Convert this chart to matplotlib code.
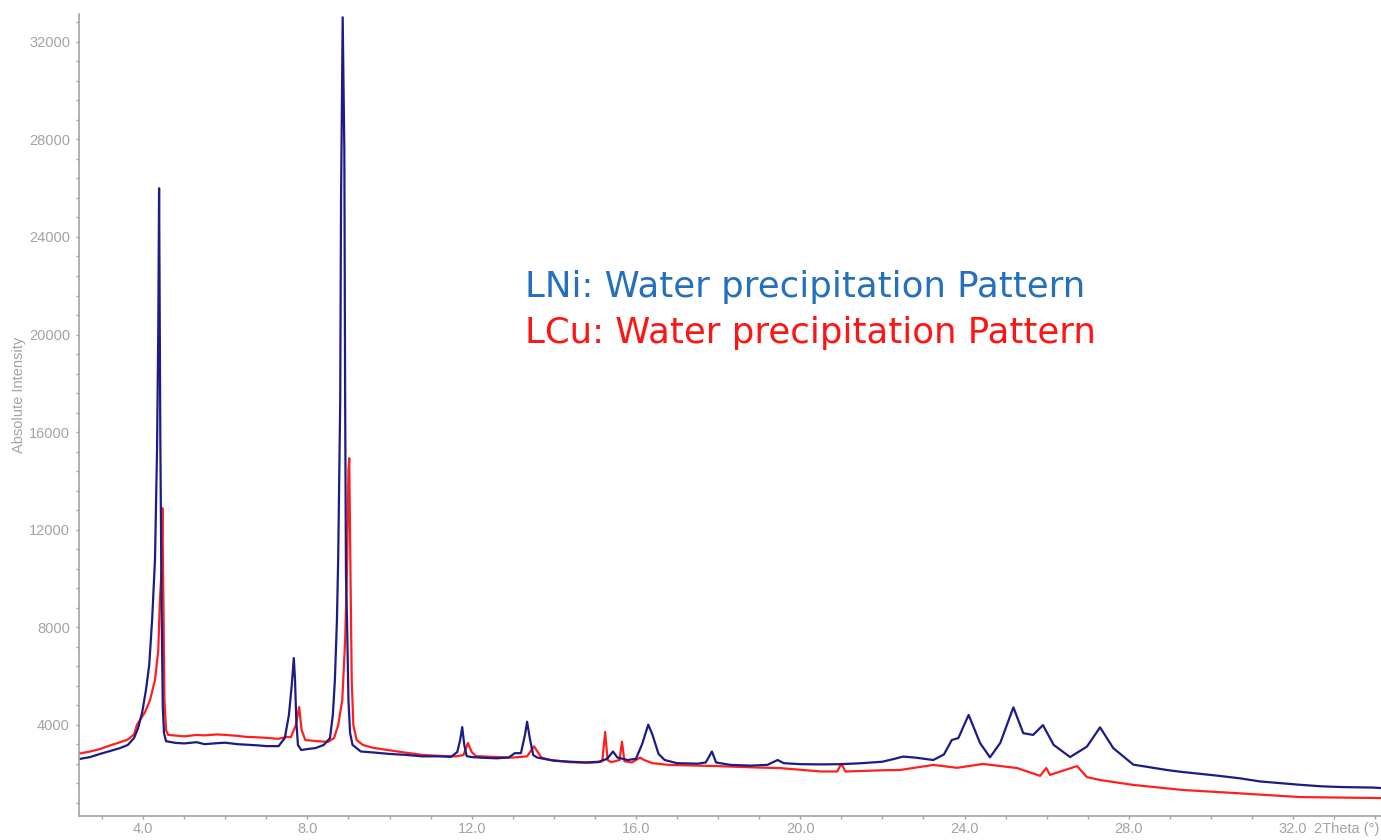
import matplotlib
matplotlib.use("Agg")
import matplotlib.pyplot as plt
from matplotlib.ticker import MultipleLocator

# LNi pattern (blue)
ni_2theta = [2.44, 2.71, 2.95, 3.20, 3.44, 3.63, 3.78, 3.88, 3.98, 4.07, 4.15, 4.22, 4.29, 4.34,
             4.37, 4.39, 4.42, 4.45, 4.48, 4.51, 4.56, 4.8, 5.0, 5.3, 5.5, 5.8, 6.0, 6.3, 6.5, 6.8,
             7.0, 7.3, 7.45, 7.55, 7.62, 7.67, 7.70, 7.73, 7.77, 7.85, 8.0, 8.2, 8.4, 8.55, 8.62,
             8.67, 8.72, 8.75, 8.80, 8.82, 8.86, 8.90, 8.92, 8.94, 8.97, 9.00, 9.04, 9.1, 9.3, 9.6,
             10.0, 10.4, 10.8, 11.2, 11.5, 11.65, 11.72, 11.77, 11.82, 11.88, 12.0, 12.3, 12.6,
             12.9, 13.05, 13.2, 13.3, 13.35, 13.42, 13.5, 13.6, 14.0, 14.4, 14.8, 15.1, 15.3,
             15.44, 15.55, 15.8, 16.0, 16.15, 16.3, 16.4, 16.55, 16.7, 17.0, 17.5, 17.7, 17.85,
             17.95, 18.3, 18.8, 19.2, 19.45, 19.6, 20.0, 20.5, 21.0, 21.5, 22.0, 22.3, 22.5,
             22.8, 23.24, 23.5, 23.69, 23.85, 24.10, 24.38, 24.62, 24.87, 25.19, 25.43, 25.67,
             25.91, 26.17, 26.57, 26.98, 27.30, 27.62, 28.11, 28.93, 29.25, 29.7, 30.2, 30.7,
             31.2, 31.7, 32.2, 32.7, 33.2, 33.95, 34.14]
ni_counts = [2590, 2670, 2800, 2920, 3040, 3170, 3450, 3860, 4520, 5420, 6450, 8290, 10750, 15260,
             20180, 26000, 15790, 9000, 4700, 3650, 3320, 3250, 3230, 3280, 3200, 3240, 3260, 3200,
             3180, 3150, 3120, 3120, 3450, 4390, 5620, 6730, 5820, 4180, 3170, 2960, 3000, 3040,
             3170, 3450, 4390, 5820, 8290, 10750, 17300, 25500, 33010, 27560, 17300, 10140, 7880,
             5010, 3660, 3170, 2900, 2860, 2800, 2760, 2700, 2700, 2680, 2880, 3370, 3900, 3170,
             2710, 2670, 2640, 2620, 2650, 2830, 2830, 3600, 4120, 3400, 2750, 2650, 2520, 2480,
             2450, 2480, 2600, 2900, 2650, 2550, 2600, 3200, 4000, 3600, 2800, 2550, 2420, 2400,
             2450, 2900, 2450, 2350, 2320, 2350, 2550, 2420, 2380, 2370, 2380, 2420, 2480, 2600,
             2690, 2650, 2550, 2780, 3370, 3450, 4400, 3240, 2660, 3250, 4710, 3650, 3580, 3980,
             3170, 2670, 3100, 3890, 3040, 2360, 2140, 2070, 1990, 1900, 1800, 1670, 1600, 1530,
             1470, 1440, 1420, 1400]

# LCu pattern (red)
cu_2theta = [2.44, 2.71, 2.95, 3.20, 3.44, 3.63, 3.78, 3.85, 4.05, 4.17, 4.29, 4.37, 4.41, 4.45,
             4.47, 4.50, 4.52, 4.56, 4.61, 5.0, 5.3, 5.5, 5.8, 6.0, 6.3, 6.5, 6.8, 7.0, 7.3, 7.5,
             7.6, 7.72, 7.80, 7.86, 7.95, 8.2, 8.5, 8.65, 8.75, 8.85, 8.92, 8.97, 9.00, 9.02,
             9.05, 9.08, 9.12, 9.2, 9.35, 9.6, 10.0, 10.4, 10.8, 11.2, 11.6, 11.8, 11.91, 12.0,
             12.1, 12.5, 13.0, 13.35, 13.45, 13.52, 13.6, 13.7, 13.9, 14.4, 14.8, 15.1, 15.18,
             15.25, 15.31, 15.4, 15.6, 15.66, 15.72, 15.9, 16.1, 16.2, 16.4, 16.8, 17.5, 18.0,
             18.5, 19.0, 19.5, 20.0, 20.5, 20.9, 21.0, 21.1, 21.5, 22.0, 22.43, 23.24, 23.82,
             24.45, 25.28, 25.84, 25.99, 26.08, 26.74, 26.98, 27.3, 28.1, 29.32, 30.54, 32.17,
             34.14]
cu_counts = [2810, 2900, 3000, 3150, 3280, 3390, 3600, 3990, 4520, 5010, 5830, 7060, 9110, 10340,
             12880, 8290, 5010, 3780, 3580, 3520, 3580, 3560, 3600, 3580, 3540, 3500, 3480, 3460,
             3420, 3500, 3490, 3980, 4720, 3780, 3370, 3330, 3290, 3450, 3980, 5010, 7470, 10750,
             14440, 14930, 10140, 5820, 3980, 3370, 3170, 3050, 2950, 2850, 2760, 2720, 2700,
             2750, 3250, 2880, 2710, 2680, 2650, 2700, 2950, 3110, 2900, 2650, 2560, 2460, 2440,
             2460, 2500, 3700, 2550, 2460, 2550, 3300, 2500, 2450, 2650, 2550, 2420, 2350, 2320,
             2300, 2270, 2240, 2220, 2150, 2080, 2080, 2400, 2080, 2100, 2130, 2140, 2350, 2230,
             2390, 2220, 1900, 2220, 1940, 2300, 1850, 1730, 1530, 1320, 1200, 1030, 990]

y_ticks = [4000, 8000, 12000, 16000, 20000, 24000, 28000, 32000]
x_ticks = [4.0, 8.0, 12.0, 16.0, 20.0, 24.0, 28.0, 32.0]

gray = "#a3a3a3"

fig = plt.figure(figsize=(13.81, 8.4), dpi=100)
ax = fig.add_axes([79 / 1381, 24 / 840, 1 - 79 / 1381, 802 / 840])

ax.plot(cu_2theta, cu_counts, color="#ff1f1f", lw=1.6)
ax.plot(ni_2theta, ni_counts, color="#1c1c86", lw=1.6)

ax.set_xlim(2.44, 34.14)
ax.set_ylim(254, 33145)

ax.set_xticks(x_ticks)
ax.set_xticklabels(["%.1f" % v for v in x_ticks])
ax.set_yticks(y_ticks)
ax.xaxis.set_minor_locator(MultipleLocator(1.0))
ax.yaxis.set_minor_locator(MultipleLocator(800))

for s in ["top", "right"]:
    ax.spines[s].set_visible(False)
for s in ["left", "bottom"]:
    ax.spines[s].set_color(gray)
    ax.spines[s].set_linewidth(1.2)

ax.tick_params(which="both", direction="out", length=2.5, width=1, color=gray,
               labelcolor=gray, labelsize=10.5)
ax.tick_params(axis="y", which="both", pad=4)
ax.tick_params(axis="x", which="both", pad=2)
for lab in ax.get_xticklabels() + ax.get_yticklabels():
    lab.set_family("Liberation Sans")

ax.set_ylabel("Absolute Intensity", color=gray, fontsize=10.5, family="Liberation Sans")
ax.yaxis.set_label_coords(-0.041, 0.525)
# axis unit sits at the far right end, in line with the tick labels
ax.set_xlabel("2Theta (°)", color=gray, fontsize=10.5, family="Liberation Sans")
ax.xaxis.set_label_coords(0.9985, -0.0075)
ax.xaxis.label.set_va("top")
ax.xaxis.label.set_ha("right")

fig.text(0.3805, 1 - 297 / 840, "LNi: Water precipitation Pattern", color="#2470bf",
         fontsize=25.6, family="DejaVu Sans", va="baseline")
fig.text(0.3805, 1 - 343 / 840, "LCu: Water precipitation Pattern", color="#ff1414",
         fontsize=25.6, family="DejaVu Sans", va="baseline")

fig.savefig("out.png", dpi=100)
